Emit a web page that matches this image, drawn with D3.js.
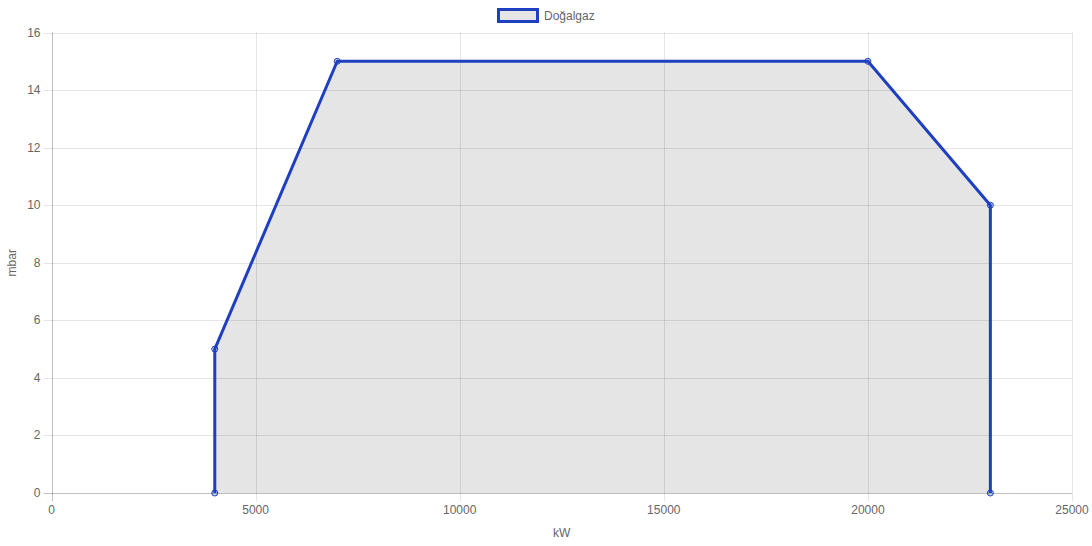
<!DOCTYPE html>
<html><head><meta charset="utf-8">
<script src="https://cdn.jsdelivr.net/npm/d3@7"></script>
<style>body{margin:0;background:#fff}svg{display:block;font-family:"Liberation Sans",Arial,Helvetica,sans-serif}</style>
</head><body><svg id="c" width="1092" height="546"></svg>
<script>
const seriesName = "Doğalgaz";
const xValues = [4000, 4000, 7000, 20000, 23000, 23000];
const yValues = [0, 5, 15, 15, 10, 0];
const xTicks = [0, 5000, 10000, 15000, 20000, 25000];
const yTicks = [0, 2, 4, 6, 8, 10, 12, 14, 16];
const xTitle = "kW", yTitle = "mbar";

const svg = d3.select("#c");
const L = 51.5, R = 1072, T = 32.5, B = 493;
const x = d3.scaleLinear().domain([0, 25000]).range([L, R]);
const y = d3.scaleLinear().domain([0, 16]).range([B, T]);
const line = "#1e3fbf";

// grid
const g = svg.append("g");
xTicks.forEach(t => {
  g.append("line").attr("x1", Math.round(x(t))+0.5).attr("x2", Math.round(x(t))+0.5)
   .attr("y1", T).attr("y2", B + 8)
   .attr("stroke", t === 0 ? "rgba(0,0,0,0.25)" : "rgba(0,0,0,0.1)");
});
yTicks.forEach(t => {
  g.append("line").attr("y1", Math.round(y(t))+0.5).attr("y2", Math.round(y(t))+0.5)
   .attr("x1", L - 8).attr("x2", R)
   .attr("stroke", t === 0 ? "rgba(0,0,0,0.25)" : "rgba(0,0,0,0.1)");
});
// tick labels
g.selectAll(".xt").data(xTicks).enter().append("text")
 .attr("x", d => x(d)).attr("y", B + 21).attr("text-anchor", "middle")
 .attr("font-size", 12).attr("fill", "#666").text(d => d);
g.selectAll(".yt").data(yTicks).enter().append("text")
 .attr("x", L - 11).attr("y", d => y(d) + 4).attr("text-anchor", "end")
 .attr("font-size", 12).attr("fill", "#666").text(d => d);
// titles
svg.append("text").attr("x", (L + R) / 2).attr("y", 537).attr("text-anchor", "middle")
 .attr("font-size", 12).attr("fill", "#666").text(xTitle);
svg.append("text").attr("transform", `translate(16,${(T + B) / 2}) rotate(-90)`)
 .attr("text-anchor", "middle").attr("font-size", 12).attr("fill", "#666").text(yTitle);

const pts = xValues.map((v, i) => [v, yValues[i]]);
const area = d3.area().x(d => x(d[0])).y0(y(0)).y1(d => y(d[1]));
svg.append("path").datum(pts).attr("d", area).attr("fill", "rgba(0,0,0,0.1)");
svg.append("path").datum(pts).attr("d", d3.line().x(d => x(d[0])).y(d => y(d[1])))
 .attr("fill", "none").attr("stroke", line).attr("stroke-width", 3).attr("stroke-linejoin", "round");
svg.selectAll(".pt").data(pts).enter().append("circle")
 .attr("cx", d => x(d[0])).attr("cy", d => y(d[1])).attr("r", 3)
 .attr("fill", "rgba(30,63,191,0.25)").attr("stroke", line).attr("stroke-width", 1);

// legend
const lg = svg.append("g");
lg.append("rect").attr("x", 498.5).attr("y", 9.5).attr("width", 39).attr("height", 12)
 .attr("fill", "#e5e5e5").attr("stroke", line).attr("stroke-width", 3);
lg.append("text").attr("x", 544).attr("y", 20).attr("font-size", 12).attr("fill", "#666").text(seriesName);
</script></body></html>
